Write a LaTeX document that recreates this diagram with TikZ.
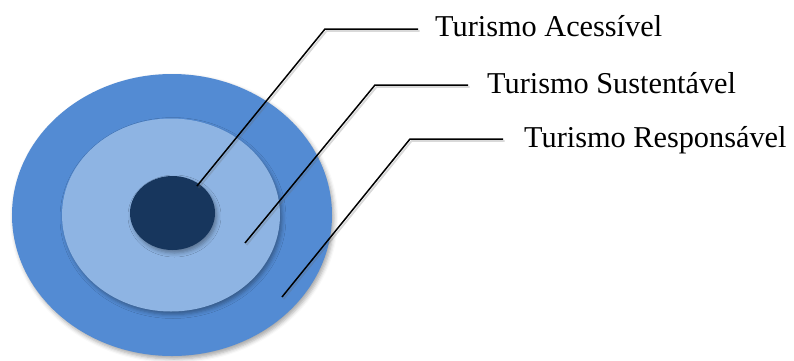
\documentclass[tikz,border=0pt]{standalone}
\usepackage{fontspec}
\setmainfont{Liberation Serif}
\usetikzlibrary{shapes.geometric,shadows.blur}
\definecolor{outerblue}{RGB}{83,139,211}
\definecolor{midblue}{RGB}{142,180,227}
\definecolor{innerblue}{RGB}{23,54,93}
\tikzset{
  ring/.style={ellipse, draw=none, inner sep=0pt,
    blur shadow={shadow xshift=2pt, shadow yshift=-3pt, shadow blur radius=4pt, shadow opacity=35}},
  label/.style={anchor=base west, inner sep=0pt, font=\fontsize{30.3}{36}\selectfont},
  leader/.style={draw=black, line width=1.5pt, line join=round},
  leadershadow/.style={draw=black!60, line width=1.8pt, opacity=0.25, line join=round}
}
\begin{document}
\begin{tikzpicture}[x=1pt,y=-1pt]
\useasboundingbox (0,0) rectangle (794,360);
\node[ring, fill=outerblue, minimum width=320pt, minimum height=282pt] (outer) at (172,215) {};
\node[ring, fill=midblue, minimum width=218pt, minimum height=193pt] (middle) at (171,215) {};
\node[ring, fill=innerblue, minimum width=85pt, minimum height=74pt] (inner) at (172.5,213) {};
\node[label] (ta) at (435,36) {Turismo Acessível};
\node[label] (ts) at (487,93) {Turismo Sustentável};
\node[label] (tr) at (524,147) {Turismo Responsável};
\coordinate (a1) at (197,186);
\coordinate (a2) at (325,29);
\coordinate (a3) at (418,29);
\coordinate (s1) at (245,243);
\coordinate (s2) at (375,85);
\coordinate (s3) at (468,85);
\coordinate (r1) at (282,297);
\coordinate (r2) at (410,139);
\coordinate (r3) at (503,139);
\begin{scope}[transform canvas={xshift=1.5pt,yshift=-2pt}]
\draw[leadershadow] (a1) -- (a2) -- (a3);
\draw[leadershadow] (s1) -- (s2) -- (s3);
\draw[leadershadow] (r1) -- (r2) -- (r3);
\end{scope}
\draw[leader] (a1) -- (a2) -- (a3);
\draw[leader] (s1) -- (s2) -- (s3);
\draw[leader] (r1) -- (r2) -- (r3);
\end{tikzpicture}
\end{document}
